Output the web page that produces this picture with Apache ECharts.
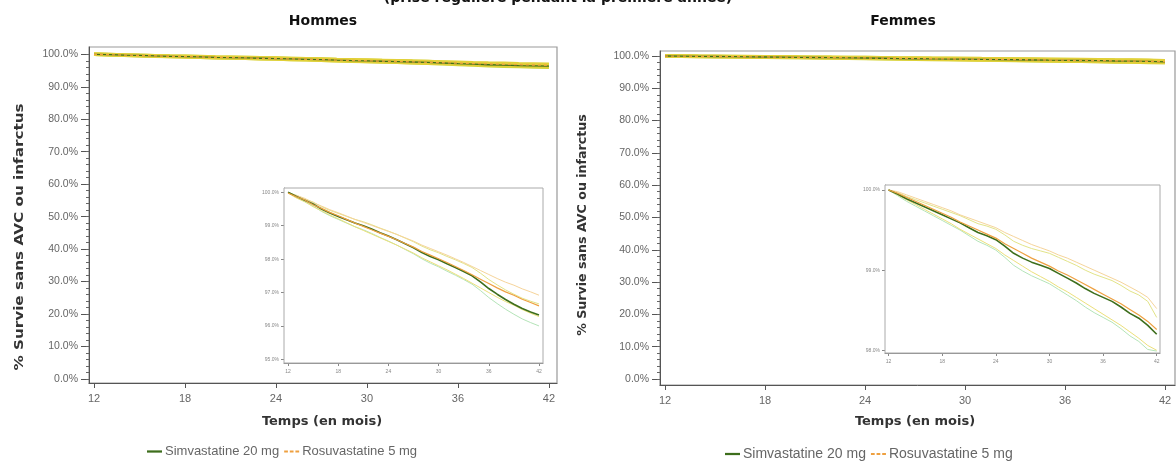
<!DOCTYPE html>
<html><head><meta charset="utf-8">
<script src="https://cdn.jsdelivr.net/npm/echarts@6/dist/echarts.min.js"></script>
<style>html,body{margin:0;padding:0;background:#fff}#c{width:1176px;height:462px}</style>
</head><body><div id="c"></div>
<script>
const months = [12,13,14,15,16,17,18,19,20,21,22,23,24,25,26,27,28,29,30,31,32,33,34,35,36,37,38,39,40,41,42];
const xTicks = [12,18,24,30,36,42];
const yTicksMain = [0,10,20,30,40,50,60,70,80,90,100];
const yMinorMain = [0,2,4,6,8,10,12,14,16,18,20,22,24,26,28,30,32,34,36,38,40,42,44,46,48,50,52,54,56,58,60,62,64,66,68,70,72,74,76,78,80,82,84,86,88,90,92,94,96,98,100];
const yTicksInsetH = [95,96,97,98,99,100];
const yTicksInsetF = [98,99,100];
const seriesNames = ['Simvastatine 20 mg','Rosuvastatine 5 mg'];

const hommesSimva = [100.0,99.88,99.76,99.65,99.50,99.38,99.28,99.18,99.08,99.00,98.90,98.79,98.69,98.58,98.46,98.34,98.20,98.08,97.98,97.86,97.75,97.63,97.50,97.32,97.12,96.95,96.79,96.65,96.52,96.42,96.33];
const hommesRosu = [99.98,99.87,99.77,99.63,99.52,99.40,99.30,99.19,99.08,98.98,98.88,98.78,98.68,98.58,98.47,98.36,98.23,98.12,98.01,97.90,97.78,97.66,97.53,97.40,97.27,97.14,97.02,96.92,96.80,96.70,96.60];
const hommesSimvaLo = [100.0,99.85,99.72,99.59,99.43,99.30,99.19,99.08,98.97,98.88,98.77,98.65,98.54,98.42,98.29,98.16,98.01,97.88,97.77,97.64,97.52,97.39,97.25,97.06,96.85,96.67,96.50,96.35,96.21,96.10,96.00];
const hommesSimvaHi = [100.0,99.91,99.80,99.71,99.57,99.46,99.37,99.28,99.19,99.12,99.03,98.93,98.84,98.74,98.63,98.52,98.39,98.28,98.19,98.08,97.98,97.87,97.75,97.58,97.39,97.23,97.08,96.95,96.83,96.74,96.66];
const hommesRosuLo = [99.98,99.83,99.72,99.57,99.45,99.32,99.21,99.09,98.97,98.86,98.75,98.64,98.53,98.42,98.30,98.18,98.04,97.92,97.80,97.68,97.55,97.42,97.28,97.14,97.00,96.86,96.73,96.62,96.49,96.38,96.28];
const hommesRosuHi = [99.98,99.91,99.82,99.69,99.59,99.48,99.39,99.29,99.19,99.10,99.01,98.92,98.83,98.74,98.64,98.54,98.42,98.32,98.22,98.12,98.01,97.90,97.78,97.66,97.54,97.42,97.31,97.22,97.11,97.02,96.92];

const femmesSimva = [100.0,99.95,99.89,99.84,99.79,99.74,99.69,99.64,99.59,99.53,99.47,99.43,99.38,99.30,99.21,99.15,99.10,99.06,99.02,98.96,98.90,98.84,98.77,98.71,98.66,98.61,98.54,98.46,98.40,98.31,98.20];
const femmesRosu = [100.0,99.96,99.91,99.86,99.81,99.76,99.71,99.66,99.60,99.55,99.50,99.45,99.40,99.33,99.27,99.21,99.15,99.10,99.05,98.99,98.94,98.88,98.82,98.76,98.70,98.64,98.58,98.51,98.44,98.36,98.26];
const femmesSimvaLo = [100.0,99.93,99.86,99.80,99.74,99.68,99.62,99.56,99.50,99.43,99.36,99.31,99.25,99.16,99.06,98.99,98.93,98.88,98.83,98.76,98.69,98.62,98.54,98.47,98.41,98.35,98.27,98.18,98.11,98.01,97.99];
const femmesSimvaHi = [100.0,99.97,99.92,99.88,99.84,99.80,99.76,99.72,99.68,99.63,99.58,99.55,99.51,99.44,99.36,99.31,99.27,99.24,99.21,99.16,99.11,99.06,99.00,98.95,98.91,98.87,98.81,98.74,98.69,98.61,98.41];
const femmesRosuLo = [100.0,99.94,99.88,99.82,99.76,99.70,99.64,99.58,99.51,99.45,99.39,99.33,99.27,99.19,99.12,99.05,98.98,98.92,98.86,98.79,98.73,98.66,98.59,98.52,98.45,98.38,98.31,98.23,98.15,98.06,98.00];
const femmesRosuHi = [100.0,99.98,99.94,99.90,99.86,99.82,99.78,99.74,99.69,99.65,99.61,99.57,99.53,99.47,99.42,99.37,99.32,99.28,99.24,99.19,99.15,99.10,99.05,99.00,98.95,98.90,98.85,98.79,98.73,98.66,98.52];

const pts = arr => months.map((m, i) => [m, arr[i]]);
const GREEN = '#3d6e1c', ORANGE = '#eea040', BAND_S = '#cfd640', BAND_R = '#e2d038';
const labelColor = '#666';
const FONT = 'Liberation Sans';

function panelSeries(xi, yi, simva, rosu, sLo, sHi, rLo, rHi, inset) {
  const band = (name, data, color) => ({
    name, type: 'line', xAxisIndex: xi, yAxisIndex: yi, data: pts(data), symbol: 'none',
    lineStyle: { color, width: inset ? 1 : 3.5 }, itemStyle: { color }, silent: true, z: 2
  });
  return [
    band('sLo' + xi, sLo, inset ? '#b4e4b8' : BAND_S),
    band('sHi' + xi, sHi, inset ? '#e2e488' : BAND_S),
    band('rLo' + xi, rLo, inset ? '#ece07a' : BAND_R),
    band('rHi' + xi, rHi, inset ? '#f6d49a' : BAND_R),
    { name: seriesNames[0], type: 'line', xAxisIndex: xi, yAxisIndex: yi, data: pts(simva), symbol: 'none',
      lineStyle: { color: GREEN, width: inset ? 1.6 : 1.3 }, itemStyle: { color: GREEN }, z: 3 },
    { name: seriesNames[1], type: 'line', xAxisIndex: xi, yAxisIndex: yi, data: pts(rosu), symbol: 'none',
      lineStyle: { color: ORANGE, width: inset ? 1.2 : 1.3, type: inset ? 'solid' : [3, 3] }, itemStyle: { color: ORANGE }, z: 4 }
  ];
}

function mainX(gi, min, max) {
  return { type: 'value', gridIndex: gi, min, max,
    axisLine: { onZero: false, lineStyle: { color: '#555' } },
    axisTick: { customValues: xTicks, length: 5, lineStyle: { color: '#555' } },
    axisLabel: { customValues: xTicks, color: labelColor, fontSize: 11, fontFamily: FONT, margin: 10 },
    splitLine: { show: false } };
}
function mainY(gi, min, max) {
  return { type: 'value', gridIndex: gi, min, max, position: 'left',
    axisLine: { show: true, onZero: false, lineStyle: { color: '#555' } },
    axisTick: { show: true, customValues: yTicksMain, length: 8, lineStyle: { color: '#555' } },
    axisLabel: { customValues: yTicksMain, color: labelColor, fontSize: 10.5, fontFamily: FONT, margin: 11,
      formatter: v => v.toFixed(1) + '%' },
    splitLine: { show: false } };
}
function minorY(gi, min, max) {
  return { type: 'value', gridIndex: gi, min, max, position: 'left',
    axisLine: { show: false, onZero: false },
    axisTick: { show: true, customValues: yMinorMain, length: 3, lineStyle: { color: '#666' } },
    axisLabel: { show: false }, splitLine: { show: false } };
}
function insetX(gi, min, max) {
  return { type: 'value', gridIndex: gi, min, max,
    axisLine: { onZero: false, lineStyle: { color: '#888' } },
    axisTick: { customValues: xTicks, length: 3, lineStyle: { color: '#888' } },
    axisLabel: { customValues: xTicks, color: '#888', fontSize: 5, fontFamily: FONT, margin: 6 },
    splitLine: { show: false } };
}
function insetY(gi, min, max, ticks) {
  return { type: 'value', gridIndex: gi, min, max,
    axisLine: { show: true, onZero: false, lineStyle: { color: '#888' } },
    axisTick: { show: true, customValues: ticks, length: 3, lineStyle: { color: '#888' } },
    axisLabel: { customValues: ticks, color: '#888', fontSize: 5, fontFamily: FONT, margin: 5,
      formatter: v => v.toFixed(1) + '%' },
    splitLine: { show: false } };
}

const solidIcon = 'path://M0,4h16v2.4h-16z';
const dashIcon = 'path://M0,4h4v2h-4z M6,4h4v2h-4z M12,4h4v2h-4z';
function legendAt(left, top, size) {
  return { left, top, itemWidth: 15, itemHeight: 10, itemGap: 5,
    data: [{ name: seriesNames[0], icon: solidIcon, itemStyle: { color: GREEN } },
           { name: seriesNames[1], icon: dashIcon, itemStyle: { color: ORANGE } }],
    textStyle: { color: '#666', fontSize: size, fontFamily: FONT, padding: [0, 0, 0, -2] } };
}

const chart = echarts.init(document.getElementById('c'), null, { renderer: 'canvas' });
const option = {
  backgroundColor: '#fff',
  animation: false,
  grid: [
    { left: 89, top: 47, width: 468, height: 336, show: true, borderColor: '#999', borderWidth: 1.2, backgroundColor: 'transparent' },
    { left: 660, top: 51, width: 515, height: 334, show: true, borderColor: '#999', borderWidth: 1.2, backgroundColor: 'transparent' },
    { left: 284, top: 188, width: 259, height: 175, show: true, borderColor: '#aaa', borderWidth: 1, backgroundColor: '#fff', z: 5 },
    { left: 885, top: 185, width: 275, height: 168, show: true, borderColor: '#aaa', borderWidth: 1, backgroundColor: '#fff', z: 5 }
  ],
  xAxis: [
    mainX(0, 11.67, 42.53),
    mainX(1, 11.7, 42.6),
    insetX(2, 11.52, 42.48),
    insetX(3, 11.6, 42.37)
  ],
  yAxis: [
    mainY(0, -1.23, 102.25),
    mainY(1, -1.86, 101.55),
    insetY(2, 94.89, 100.13, yTicksInsetH),
    insetY(3, 97.966, 100.0625, yTicksInsetF),
    minorY(0, -1.23, 102.25),
    minorY(1, -1.86, 101.55)
  ],
  legend: [ legendAt(142, 440, 13), legendAt(720, 442, 14) ],
  graphic: [
    { type: 'text', x: 558, y: -2, style: { text: '(prise régulière pendant la première année)', font: 'bold 14px "DejaVu Sans"', fill: '#111', align: 'center', verticalAlign: 'middle' } },
    { type: 'text', x: 323, y: 21, style: { text: 'Hommes', font: 'bold 14px "DejaVu Sans"', fill: '#111', align: 'center', verticalAlign: 'middle' } },
    { type: 'text', x: 903, y: 21, style: { text: 'Femmes', font: 'bold 14px "DejaVu Sans"', fill: '#111', align: 'center', verticalAlign: 'middle' } },
    { type: 'text', x: 322, y: 422, style: { text: 'Temps (en mois)', font: 'bold 13px "DejaVu Sans"', fill: '#333', align: 'center', verticalAlign: 'middle' } },
    { type: 'text', x: 915, y: 422, style: { text: 'Temps (en mois)', font: 'bold 13px "DejaVu Sans"', fill: '#333', align: 'center', verticalAlign: 'middle' } },
    { type: 'text', x: 20, y: 237, rotation: Math.PI / 2, scaleX: 1.17, style: { text: '% Survie sans AVC ou infarctus', font: 'bold 13px "DejaVu Sans"', fill: '#333', align: 'center', verticalAlign: 'middle' } },
    { type: 'text', x: 583, y: 225, rotation: Math.PI / 2, scaleX: 0.97, style: { text: '% Survie sans AVC ou infarctus', font: 'bold 13px "DejaVu Sans"', fill: '#333', align: 'center', verticalAlign: 'middle' } }
  ],
  series: [
    ...panelSeries(0, 0, hommesSimva, hommesRosu, hommesSimvaLo, hommesSimvaHi, hommesRosuLo, hommesRosuHi, false),
    ...panelSeries(1, 1, femmesSimva, femmesRosu, femmesSimvaLo, femmesSimvaHi, femmesRosuLo, femmesRosuHi, false),
    ...panelSeries(2, 2, hommesSimva, hommesRosu, hommesSimvaLo, hommesSimvaHi, hommesRosuLo, hommesRosuHi, true).map(s => ({ ...s, z: s.z + 10 })),
    ...panelSeries(3, 3, femmesSimva, femmesRosu, femmesSimvaLo, femmesSimvaHi, femmesRosuLo, femmesRosuHi, true).map(s => ({ ...s, z: s.z + 10 }))
  ]
};
chart.setOption(option);
</script></body></html>
